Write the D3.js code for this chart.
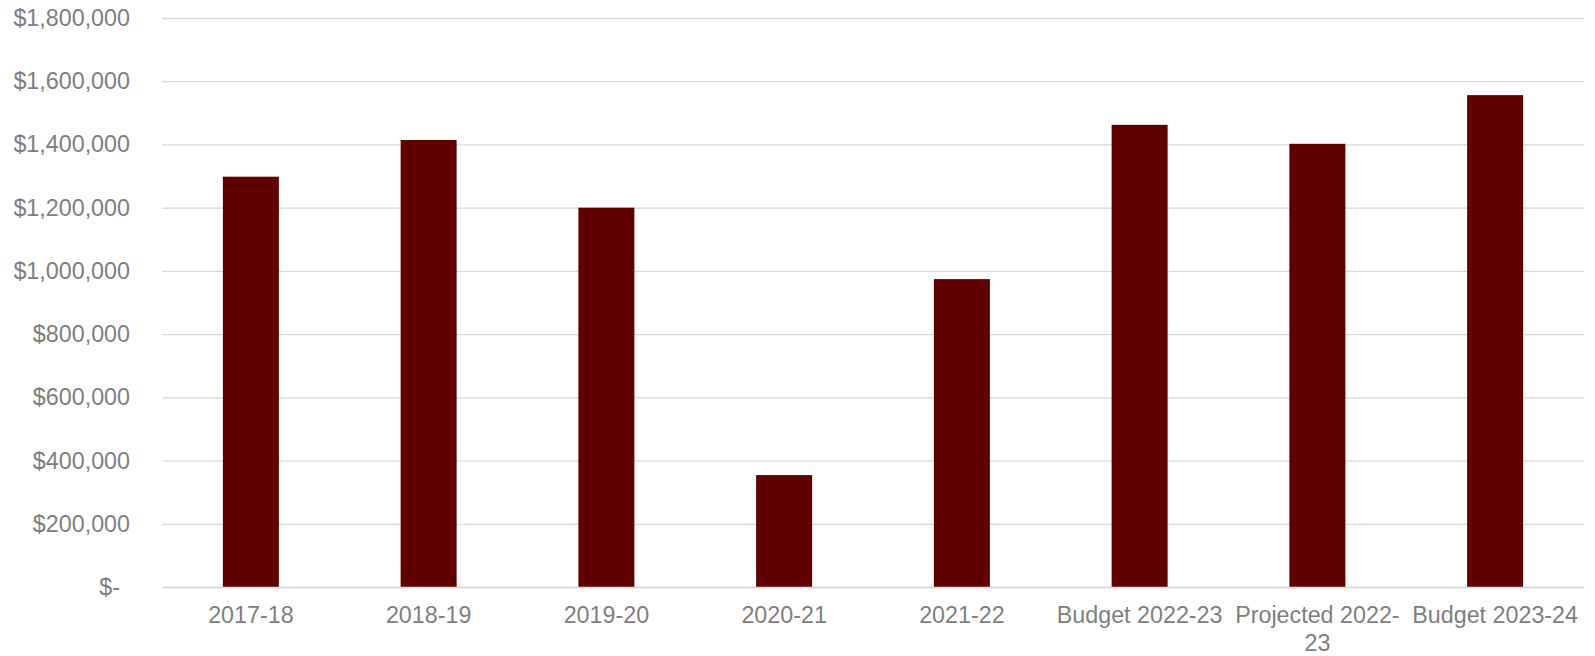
<!DOCTYPE html>
<html>
<head>
<meta charset="utf-8">
<script src="https://cdn.jsdelivr.net/npm/d3@7"></script>
<style>
  body { margin: 0; background: #fff; }
  text { font-family: "Liberation Sans", Arial, sans-serif; }
</style>
</head>
<body>
<div class="canvas"></div>
<script>
// chart data
const categories = ["2017-18", "2018-19", "2019-20", "2020-21", "2021-22",
  "Budget 2022-23", "Projected 2022-23", "Budget 2023-24"];
const values = [1298000, 1414000, 1200000, 354000, 974000, 1462000, 1402000, 1556000];
const yTicks = [0, 200000, 400000, 600000, 800000, 1000000, 1200000, 1400000, 1600000, 1800000];

const width = 1595;
const height = 656;
const margin = { top: 18, right: 11, bottom: 69, left: 162 };
const graphWidth = width - margin.left - margin.right;
const graphHeight = height - margin.top - margin.bottom;

const textColor = "#808080";
const gridColor = "#d9d9d9";
const barColor = "#600000";
const fontSize = 23.3;

const svg = d3.select(".canvas")
  .append("svg")
  .attr("width", width)
  .attr("height", height);

const graph = svg.append("g")
  .attr("transform", `translate(${margin.left}, ${margin.top})`);

// scales
const x = d3.scaleBand()
  .domain(categories)
  .range([0, graphWidth])
  .paddingInner(0.685)
  .paddingOuter(0.3425);

const y = d3.scaleLinear()
  .domain([0, 1800000])
  .range([graphHeight, 0]);

// y axis with gridlines
const yAxis = d3.axisLeft(y)
  .tickValues(yTicks)
  .tickSize(-graphWidth)
  .tickPadding(32)
  .tickFormat(d => d === 0 ? "$-" : "$" + d3.format(",")(d));

const yAxisGroup = graph.append("g").call(yAxis);
yAxisGroup.select(".domain").remove();
yAxisGroup.selectAll(".tick line")
  .attr("stroke", gridColor)
  .attr("stroke-width", 1.3);
yAxisGroup.selectAll(".tick text")
  .attr("fill", textColor)
  .attr("font-size", fontSize)
  .attr("dx", d => d === 0 ? -10 : 0);

// bars
graph.selectAll("rect")
  .data(values)
  .enter()
  .append("rect")
    .attr("x", (d, i) => x(categories[i]))
    .attr("y", d => y(d))
    .attr("width", x.bandwidth())
    .attr("height", d => graphHeight - y(d))
    .attr("fill", barColor);

// x axis
const xAxis = d3.axisBottom(x).tickSize(0).tickPadding(19);
const xAxisGroup = graph.append("g")
  .attr("transform", `translate(0, ${graphHeight})`)
  .call(xAxis);
xAxisGroup.select(".domain")
  .attr("stroke", gridColor)
  .attr("stroke-width", 1.3);
xAxisGroup.selectAll(".tick text")
  .attr("fill", textColor)
  .attr("font-size", fontSize)
  .call(wrap, x.step());

// wrap labels like Excel does: break after spaces or hyphens
function wrap(texts, maxWidth) {
  texts.each(function() {
    const text = d3.select(this);
    const words = text.text().match(/[^\s-]+-?\s*/g);
    const yPos = text.attr("y");
    text.text(null);
    let line = "";
    let lineNum = 0;
    let tspan = text.append("tspan").attr("x", 0).attr("y", yPos).attr("dy", "0.71em");
    words.forEach(w => {
      const test = line + w;
      tspan.text(test.trim());
      if (tspan.node().getComputedTextLength() > maxWidth && line !== "") {
        tspan.text(line.trim());
        line = w;
        lineNum++;
        tspan = text.append("tspan")
          .attr("x", 0)
          .attr("y", yPos)
          .attr("dy", (0.71 + lineNum * 1.22) + "em")
          .text(w.trim());
      } else {
        line = test;
      }
    });
  });
}
</script>
</body>
</html>
